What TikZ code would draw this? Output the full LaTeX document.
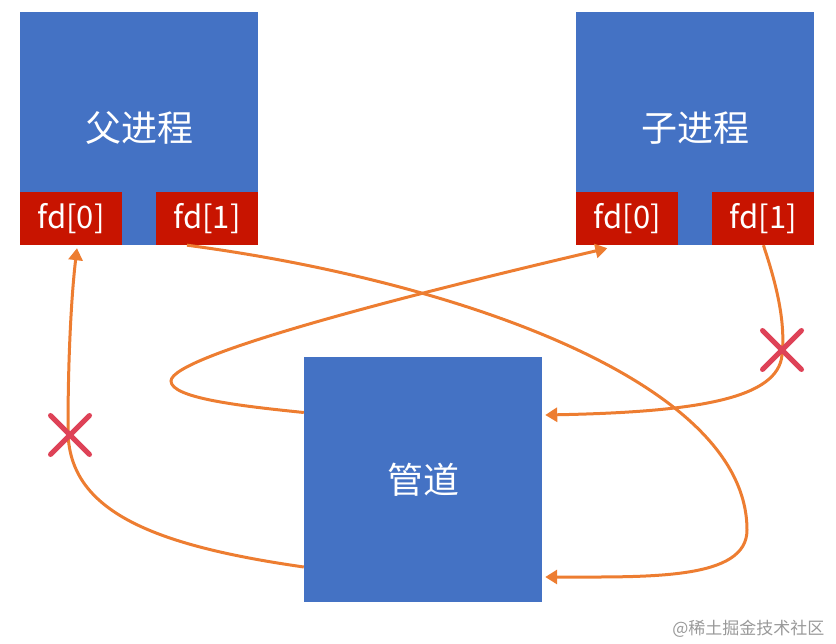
\documentclass[tikz,border=0pt]{standalone}
\usepackage{fontspec}
\newfontfamily\cjk{Noto Sans CJK SC}
\usepackage{xcolor}
\usepackage{tikz}
\usetikzlibrary{positioning, arrows.meta, shapes.misc}
\definecolor{procblue}{HTML}{4472C4}
\definecolor{fdred}{HTML}{C81400}
\definecolor{flowor}{HTML}{ED7D31}
\definecolor{cutred}{HTML}{DE4257}

\begin{document}
\begin{tikzpicture}[x=1pt, y=-1pt,
        proc/.style={fill=procblue, minimum width=238pt, minimum height=233pt, inner sep=0pt, text=white, font=\cjk\fontsize{36}{40}\selectfont},
        pipebox/.style={proc, minimum height=245pt},
        fdbox/.style={fill=fdred, minimum width=102pt, minimum height=53pt, inner sep=0pt, text=white, font=\cjk\fontsize{31}{34}\selectfont},
        flow/.style={draw=flowor, line width=3pt, -{Triangle[length=12pt,width=14pt]}},
        xmark/.style={cross out, draw=cutred, line width=5pt, line cap=round, minimum size=34pt, inner sep=0pt}]
        \useasboundingbox (0,0) rectangle (836,644);

        \node[proc] (parent) at (139,128.5) {父进程};
        \node[proc] (child) [right=318pt of parent] {子进程};
        \node[pipebox] (pipe) at (423,479.5) {管道};

        \node[fdbox, anchor=south west] (pfd0) at (parent.south west) {fd[0]};
        \node[fdbox, anchor=south east] (pfd1) at (parent.south east) {fd[1]};
        \node[fdbox, anchor=south west] (cfd0) at (child.south west) {fd[0]};
        \node[fdbox, anchor=south east] (cfd1) at (child.south east) {fd[1]};

        % pipe -> child read end
        \draw[flow] ([yshift=67pt]pipe.west)
            .. controls (240,406) and (171,398) .. (171,381)
            .. controls (171,355) and (420,292) .. ([xshift=-20pt,yshift=-3pt]cfd0.south);
        % parent write end -> pipe
        \draw[flow] ([xshift=-20pt]pfd1.south)
            .. controls (450,280) and (747,380) .. (747,530)
            .. controls (747,580) and (650,577) .. ([xshift=3pt,yshift=-97.5pt]pipe.east);
        % child write end -> pipe (closed)
        \draw[flow] (cfd1.south)
            .. controls (775,280) and (786,320) .. (782,355)
            .. controls (778,398) and (700,412) .. ([xshift=3pt,yshift=64.5pt]pipe.east);
        % pipe -> parent read end (closed)
        \draw[flow] ([yshift=-87.5pt]pipe.west)
            .. controls (150,545) and (68,510) .. (68,430)
            .. controls (68,350) and (72,290) .. ([xshift=6pt,yshift=-3pt]pfd0.south);

        \node[xmark] (cutp) at (70,435) {};
        \node[xmark] (cutc) at (782,350) {};

        \node[text=black!40, font=\cjk\fontsize{17}{19}\selectfont, anchor=east] (wmark) at (828,629) {@稀土掘金技术社区};
    \end{tikzpicture}
\end{document}
